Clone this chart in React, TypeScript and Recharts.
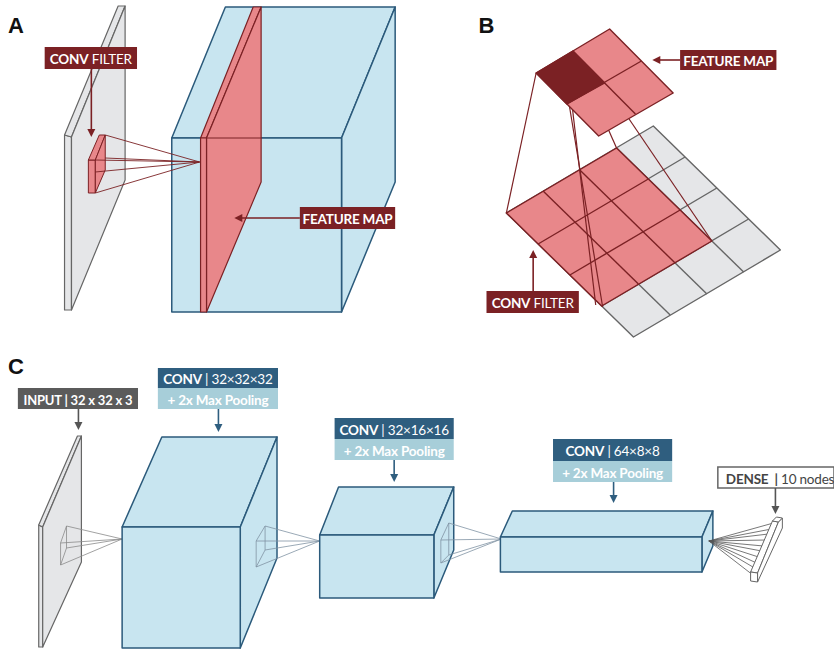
import type { ReactElement } from 'react';
import { ScatterChart, Scatter, XAxis, YAxis } from 'recharts';

type XY = [number, number];
type Pt = { x: number; y: number };
type Part = [string, boolean];

const WIDTH = 834;
const HEIGHT = 650;
const FONT = 'Lato, "Noto Sans", sans-serif';

const BLUE = '#c8e5f0';
const BLUE_EDGE = '#2b5a7b';
const RED = '#e8878a';
const RED_EDGE = '#7b2124';
const GREY = '#e5e6e8';
const GREY_EDGE = '#666666';
const TAG_BLUE = '#2f5e7f';
const TAG_LIGHT = '#a7ced9';
const TAG_GREY = '#5b5b5b';
const WIRE = '#8093a3';

// ---- panel A (coordinates, in px) ----
const aPlaneSide: XY[] = [[65, 135], [72, 137], [72, 310], [65, 310]];
const aPlaneTop: XY[] = [[65, 135], [119, 6], [126, 6], [72, 137]];
const aPlaneFace: XY[] = [[72, 137], [126, 6], [126, 180], [72, 310]];
const aFilterLeft: XY[] = [[89, 160], [96, 160], [96, 193], [89, 193]];
const aFilterTop: XY[] = [[89, 160], [100, 135], [106, 135], [96, 160]];
const aFilterRight: XY[] = [[96, 160], [106, 135], [106, 170], [96, 193]];
const aRaySources: XY[] = [[106, 135], [96, 160], [106, 158], [96, 172], [96, 193]];
const aRayTarget: XY = [201, 162];
const aCubeTop: XY[] = [[173, 138], [227, 7], [398, 7], [344, 138]];
const aCubeRight: XY[] = [[344, 138], [398, 7], [398, 182], [344, 312]];
const aCubeFront: XY[] = [[173, 138], [344, 138], [344, 312], [173, 312]];
const aMapFront: XY[] = [[202, 138], [208, 138], [208, 312], [202, 312]];
const aMapTop: XY[] = [[202, 138], [255, 7], [263, 7], [208, 138]];
const aMapRight: XY[] = [[208, 138], [263, 7], [263, 182], [208, 312]];

// ---- panel B ----
const bInput: XY[] = [[510, 213], [658, 126], [786, 250], [638, 337]];
const bInputRows: XY[][] = [
  [[542, 244], [690, 157]], [[574, 275], [722, 188]], [[606, 306], [754, 219]],
];
const bInputCols: XY[][] = [
  [[547, 191], [675, 315]], [[584, 170], [712, 294]], [[621, 148], [749, 272]],
];
const bFilter: XY[] = [[510, 213], [621, 148], [717, 241], [606, 306]];
const bFilterRows: XY[][] = [[[542, 244], [653, 179]], [[574, 275], [685, 210]]];
const bFilterCols: XY[][] = [[[547, 191], [643, 284]], [[584, 170], [680, 263]]];
const bLinks: XY[][] = [
  [[540, 73], [510, 213]], [[578, 52], [621, 148]], [[609, 83], [717, 241]],
  [[573, 103], [607, 307]], [[576, 104], [600, 305]],
];
const bMap: XY[] = [[540, 73], [614, 29], [678, 93], [603, 136]];
const bMapCell: XY[] = [[540, 73], [577, 51], [609, 83], [571, 104]];
const bMapLines: XY[][] = [[[577, 51], [640, 114]], [[571, 104], [646, 61]]];

// ---- panel C ----
const cInputSide: XY[] = [[39, 525], [43, 527], [43, 647], [39, 647]];
const cInputTop: XY[] = [[39, 525], [78, 436], [82, 436], [43, 527]];
const cInputFace: XY[] = [[43, 527], [82, 436], [82, 562], [43, 647]];
const cInputWire: XY[] = [[61, 543], [67, 526], [67, 548], [61, 565]];
const cInputApex: XY = [123, 539];
const c1Top: XY[] = [[123, 527], [163, 437], [279, 437], [242, 527]];
const c1Right: XY[] = [[242, 527], [279, 437], [279, 558], [242, 648]];
const c1Front: XY[] = [[123, 527], [242, 527], [242, 648], [123, 648]];
const c1Wire: XY[] = [[258, 541], [267, 526], [267, 550], [258, 567]];
const c1Apex: XY = [322, 541];
const c2Top: XY[] = [[322, 535], [341, 487], [457, 487], [437, 535]];
const c2Right: XY[] = [[437, 535], [457, 487], [457, 550], [437, 598]];
const c2Front: XY[] = [[322, 535], [437, 535], [437, 598], [322, 598]];
const c2Wire: XY[] = [[444, 540], [452, 523], [452, 555], [444, 563]];
const c2Apex: XY = [505, 539];
const c3Top: XY[] = [[504, 537], [516, 511], [718, 511], [707, 537]];
const c3Right: XY[] = [[707, 537], [718, 511], [718, 546], [707, 572]];
const c3Front: XY[] = [[504, 537], [707, 537], [707, 572], [504, 572]];
const denseApex: XY = [714, 541];
const denseNodes: XY[] = [
  [779, 523], [777, 529], [774, 534], [772, 540], [769, 546],
  [767, 551], [764, 557], [762, 563], [760, 568], [757, 574],
];
const denseLong: XY[] = [[778, 521], [784, 522], [763, 573], [756, 572]];
const denseSide: XY[] = [[784, 522], [788, 518], [788, 528], [763, 582], [763, 573]];
const denseEnd: XY[] = [[756, 572], [763, 573], [763, 582], [756, 581]];
const denseTopCap: XY[] = [[778, 521], [782, 517], [788, 518], [784, 522]];

// ---- text ----
const letters: { text: string; at: XY }[] = [
  { text: 'A', at: [8, 33] }, { text: 'B', at: [482, 33] }, { text: 'C', at: [8, 374] },
];
const convFilter: Part[] = [['CONV', true], [' FILTER', false]];
const featureMap: Part[] = [['FEATURE MAP', true]];
const inputText: Part[] = [['INPUT | 32 x 32 x 3', true]];
const conv1Text: Part[] = [['CONV', true], [' | 32×32×32', false]];
const conv2Text: Part[] = [['CONV', true], [' | 32×16×16', false]];
const conv3Text: Part[] = [['CONV', true], [' | 64×8×8', false]];
const poolText: Part[] = [['+ 2x Max Pooling', true]];
const denseText: Part[] = [['DENSE', true], ['  | ', true], ['10 nodes', false]];

const aFilterTag: XY[] = [[45, 47], [138, 69]];
const aMapTag: XY[] = [[302, 207], [398, 229]];
const bMapTag: XY[] = [[685, 50], [782, 70]];
const bFilterTag: XY[] = [[490, 291], [583, 313]];
const inputTag: XY[] = [[18, 388], [139, 409]];
const conv1Tag: XY[] = [[159, 368], [280, 388]];
const conv1Pool: XY[] = [[159, 388], [280, 409]];
const conv2Tag: XY[] = [[337, 418], [457, 439]];
const conv2Pool: XY[] = [[337, 439], [457, 460]];
const conv3Tag: XY[] = [[557, 439], [677, 461]];
const conv3Pool: XY[] = [[557, 461], [677, 482]];
const denseTag: XY[] = [[723, 467], [840, 488]];

const redArrows: XY[][] = [[[92, 69], [92, 137]], [[302, 218], [236, 218]], [[685, 60], [657, 60]], [[537, 291], [537, 250]]];
const blueArrows: XY[][] = [[[220, 409], [220, 432]], [[397, 460], [397, 482]], [[618, 482], [618, 503]]];
const greyArrows: XY[][] = [[[79, 409], [79, 430]], [[781, 488], [781, 514]]];

const none = () => <g />;
const toPts = (xy: XY[]) => xy.map(([x, y]) => ({ x, y }));
const svgPts = (p: Pt[]) => p.map((q) => `${q.x},${q.y}`).join(' ');

// every mark is a Scatter whose points go through the chart scales; `line` draws the shape
function drawWith(key: string, xy: XY[], render: (p: Pt[]) => ReactElement) {
  return (
    <Scatter
      key={key}
      data={toPts(xy)}
      isAnimationActive={false}
      shape={none}
      line={(props: { points: Pt[] }) => render(props.points)}
    />
  );
}

function poly(key: string, xy: XY[], fill: string, stroke: string, sw = 1.3) {
  return drawWith(key, xy, (p) => (
    <polygon points={svgPts(p)} fill={fill} stroke={stroke} strokeWidth={sw} strokeLinejoin="round" />
  ));
}

function seg(key: string, xy: XY[], stroke: string, sw = 1) {
  return drawWith(key, xy, (p) => (
    <polyline points={svgPts(p)} fill="none" stroke={stroke} strokeWidth={sw} />
  ));
}

function rays(key: string, from: XY[], to: XY, stroke: string, sw = 0.8) {
  return from.map((f, i) => seg(`${key}-${i}`, [f, to], stroke, sw));
}

function arrow(key: string, xy: XY[], color: string) {
  return drawWith(key, xy, ([a, b]) => {
    const dx = b.x - a.x;
    const dy = b.y - a.y;
    const len = Math.hypot(dx, dy) || 1;
    const ux = dx / len;
    const uy = dy / len;
    const bx = b.x - ux * 8;
    const by = b.y - uy * 8;
    return (
      <g>
        <line x1={a.x} y1={a.y} x2={b.x - ux * 6} y2={b.y - uy * 6} stroke={color} strokeWidth={1.6} />
        <polygon
          points={`${b.x},${b.y} ${bx - uy * 4},${by + ux * 4} ${bx + uy * 4},${by - ux * 4}`}
          fill={color}
        />
      </g>
    );
  });
}

function tag(key: string, box: XY[], parts: Part[], fill: string, color: string, size = 13.5, stroke = 'none', left = false) {
  return drawWith(key, box, ([a, b]) => (
    <g>
      <rect
        x={a.x}
        y={a.y}
        width={b.x - a.x}
        height={b.y - a.y}
        fill={fill}
        stroke={stroke}
        strokeWidth={stroke === 'none' ? 0 : 1.5}
      />
      <text
        x={left ? a.x + 8 : (a.x + b.x) / 2}
        y={(a.y + b.y) / 2 + 1}
        textAnchor={left ? 'start' : 'middle'}
        dominantBaseline="central"
        fontFamily={FONT}
        fontSize={size}
        letterSpacing={-0.2}
        fill={color}
      >
        {parts.map(([t, bold], i) => (
          <tspan key={i} fontWeight={bold ? 700 : 400} style={{ whiteSpace: 'pre' }}>
            {t}
          </tspan>
        ))}
      </text>
    </g>
  ));
}

function letter(key: string, text: string, at: XY) {
  return drawWith(key, [at], ([p]) => (
    <text x={p.x} y={p.y} fontFamily='"Liberation Sans", Arial, sans-serif' fontWeight={700} fontSize={22} fill="#111">
      {text}
    </text>
  ));
}

export default function App() {
  return (
    <div style={{ position: 'absolute', left: 0, top: 0, width: WIDTH, height: HEIGHT, background: '#fff' }}>
      <ScatterChart width={WIDTH} height={HEIGHT} margin={{ top: 0, right: 0, bottom: 0, left: 0 }}>
        <XAxis type="number" dataKey="x" domain={[0, WIDTH]} hide />
        <YAxis type="number" dataKey="y" domain={[0, HEIGHT]} reversed hide />

        {letters.map((l) => letter(`letter-${l.text}`, l.text, l.at))}

        {/* A */}
        {poly('a-plane-side', aPlaneSide, GREY, GREY_EDGE, 1.2)}
        {poly('a-plane-top', aPlaneTop, GREY, GREY_EDGE, 1.2)}
        {poly('a-plane-face', aPlaneFace, GREY, GREY_EDGE, 1.2)}
        {poly('a-filter-left', aFilterLeft, RED, RED_EDGE, 1)}
        {poly('a-filter-top', aFilterTop, RED, RED_EDGE, 1)}
        {poly('a-filter-right', aFilterRight, RED, RED_EDGE, 1)}
        {poly('a-cube-top', aCubeTop, BLUE, BLUE_EDGE, 1.5)}
        {poly('a-cube-right', aCubeRight, BLUE, BLUE_EDGE, 1.5)}
        {poly('a-cube-front', aCubeFront, BLUE, BLUE_EDGE, 1.5)}
        {poly('a-map-top', aMapTop, RED, RED_EDGE, 1.2)}
        {poly('a-map-right', aMapRight, RED, RED_EDGE, 1.2)}
        {poly('a-map-front', aMapFront, RED, RED_EDGE, 1.2)}
        {seg('a-cube-edge', [[208, 138], [263, 138]], RED_EDGE, 1)}
        {rays('a-ray', aRaySources, aRayTarget, RED_EDGE, 0.9)}
        {tag('a-filter-tag', aFilterTag, convFilter, RED_EDGE, '#fff')}
        {tag('a-map-tag', aMapTag, featureMap, RED_EDGE, '#fff')}

        {/* B */}
        {poly('b-input', bInput, GREY, GREY_EDGE, 1.4)}
        {bInputRows.map((l, i) => seg(`b-row-${i}`, l, GREY_EDGE, 1.4))}
        {bInputCols.map((l, i) => seg(`b-col-${i}`, l, GREY_EDGE, 1.4))}
        {poly('b-filter', bFilter, RED, RED_EDGE, 1.4)}
        {bFilterRows.map((l, i) => seg(`b-frow-${i}`, l, RED_EDGE, 1.4))}
        {bFilterCols.map((l, i) => seg(`b-fcol-${i}`, l, RED_EDGE, 1.4))}
        {bLinks.map((l, i) => seg(`b-link-${i}`, l, RED_EDGE, 1.2))}
        {poly('b-map', bMap, RED, RED_EDGE, 1.4)}
        {poly('b-map-cell', bMapCell, RED_EDGE, RED_EDGE, 1.4)}
        {bMapLines.map((l, i) => seg(`b-mline-${i}`, l, RED_EDGE, 1.4))}
        {tag('b-map-tag', bMapTag, featureMap, RED_EDGE, '#fff')}
        {tag('b-filter-tag', bFilterTag, convFilter, RED_EDGE, '#fff')}

        {/* C */}
        {poly('c-in-side', cInputSide, GREY, GREY_EDGE, 1.2)}
        {poly('c-in-top', cInputTop, GREY, GREY_EDGE, 1.2)}
        {poly('c-in-face', cInputFace, GREY, GREY_EDGE, 1.2)}
        {poly('c-in-wire', cInputWire, 'none', '#8a8a8a', 0.8)}
        {rays('c-in-ray', cInputWire, cInputApex, '#8a8a8a')}
        {poly('c1-top', c1Top, BLUE, BLUE_EDGE, 1.5)}
        {poly('c1-right', c1Right, BLUE, BLUE_EDGE, 1.5)}
        {poly('c1-front', c1Front, BLUE, BLUE_EDGE, 1.5)}
        {poly('c1-wire', c1Wire, 'none', WIRE, 0.8)}
        {rays('c1-ray', c1Wire, c1Apex, WIRE)}
        {poly('c2-top', c2Top, BLUE, BLUE_EDGE, 1.5)}
        {poly('c2-right', c2Right, BLUE, BLUE_EDGE, 1.5)}
        {poly('c2-front', c2Front, BLUE, BLUE_EDGE, 1.5)}
        {poly('c2-wire', c2Wire, 'none', WIRE, 0.8)}
        {rays('c2-ray', c2Wire, c2Apex, WIRE)}
        {poly('c3-top', c3Top, BLUE, BLUE_EDGE, 1.5)}
        {poly('c3-right', c3Right, BLUE, BLUE_EDGE, 1.5)}
        {poly('c3-front', c3Front, BLUE, BLUE_EDGE, 1.5)}
        {denseNodes.map((n, i) => seg(`dense-ray-${i}`, [denseApex, n], '#555', 0.8))}
        {poly('dense-long', denseLong, '#fff', GREY_EDGE, 1)}
        {poly('dense-side', denseSide, '#fff', GREY_EDGE, 1)}
        {poly('dense-end', denseEnd, '#fff', GREY_EDGE, 1)}
        {poly('dense-cap', denseTopCap, '#fff', GREY_EDGE, 1)}

        {tag('input-tag', inputTag, inputText, TAG_GREY, '#fff', 13)}
        {tag('conv1-tag', conv1Tag, conv1Text, TAG_BLUE, '#fff')}
        {tag('conv1-pool', conv1Pool, poolText, TAG_LIGHT, '#fff')}
        {tag('conv2-tag', conv2Tag, conv2Text, TAG_BLUE, '#fff')}
        {tag('conv2-pool', conv2Pool, poolText, TAG_LIGHT, '#fff')}
        {tag('conv3-tag', conv3Tag, conv3Text, TAG_BLUE, '#fff')}
        {tag('conv3-pool', conv3Pool, poolText, TAG_LIGHT, '#fff')}
        {tag('dense-tag', denseTag, denseText, '#fff', '#444', 13.5, GREY_EDGE, true)}

        {redArrows.map((a, i) => arrow(`red-arrow-${i}`, a, RED_EDGE))}
        {blueArrows.map((a, i) => arrow(`blue-arrow-${i}`, a, TAG_BLUE))}
        {greyArrows.map((a, i) => arrow(`grey-arrow-${i}`, a, '#555'))}
      </ScatterChart>
    </div>
  );
}
